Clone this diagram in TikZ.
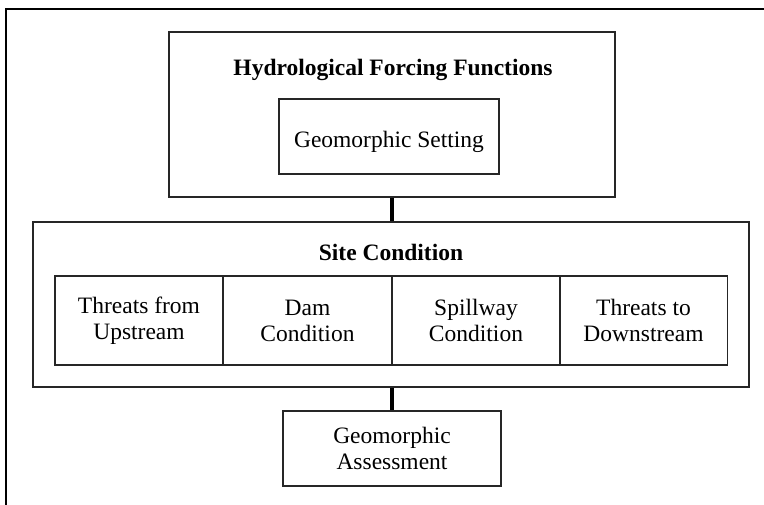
\documentclass[tikz,border=0pt]{standalone}
\usepackage{fontspec}
\setmainfont{Liberation Serif}
\begin{document}
\begin{tikzpicture}[x=1pt,y=-1pt,
  every node/.style={font=\fontsize{23.5}{26}\selectfont},
  box/.style={draw=black!85,line width=1.3pt,inner sep=0pt,align=center},
  part/.style={box,minimum width=168pt,minimum height=89pt},
  link/.style={line width=3.5pt}]
% Forcing, site condition and assessment
\useasboundingbox (0,0) rectangle (764,504);
\clip (0,0) rectangle (764,504);
\draw[line width=1.8pt] (6,9) rectangle (790,530);
\node[box,minimum width=446pt,minimum height=165pt] (forcing) at (392,114.5) {};
\node[anchor=base] (forcingtitle) at (393,75) {\bfseries Hydrological Forcing Functions};
\node[box,minimum width=220pt,minimum height=75pt,text height=21pt,text depth=0pt] (setting) at (389,136.5) {Geomorphic Setting};
\node[box,minimum width=716pt,minimum height=165pt] (site) at (391,304.5) {};
\node[anchor=base] (sitetitle) at (391,260) {\bfseries Site Condition};
\node[part] (upstream) at (139,320.5) {Threats from\\Upstream};
\node[part] (dam) at (307.5,320.5) {Dam\\Condition};
\node[part] (spillway) at (476,320.5) {Spillway\\Condition};
\node[part] (downstream) at (643.5,320.5) {Threats to\\Downstream};
\node[box,minimum width=218pt,minimum height=75pt] (assess) at (392,448.5) {Geomorphic\\Assessment};
\draw[link] (forcing.south) -- (forcing.south |- site.north);
\draw[link] (assess.north |- site.south) -- (assess.north);
\end{tikzpicture}
\end{document}
